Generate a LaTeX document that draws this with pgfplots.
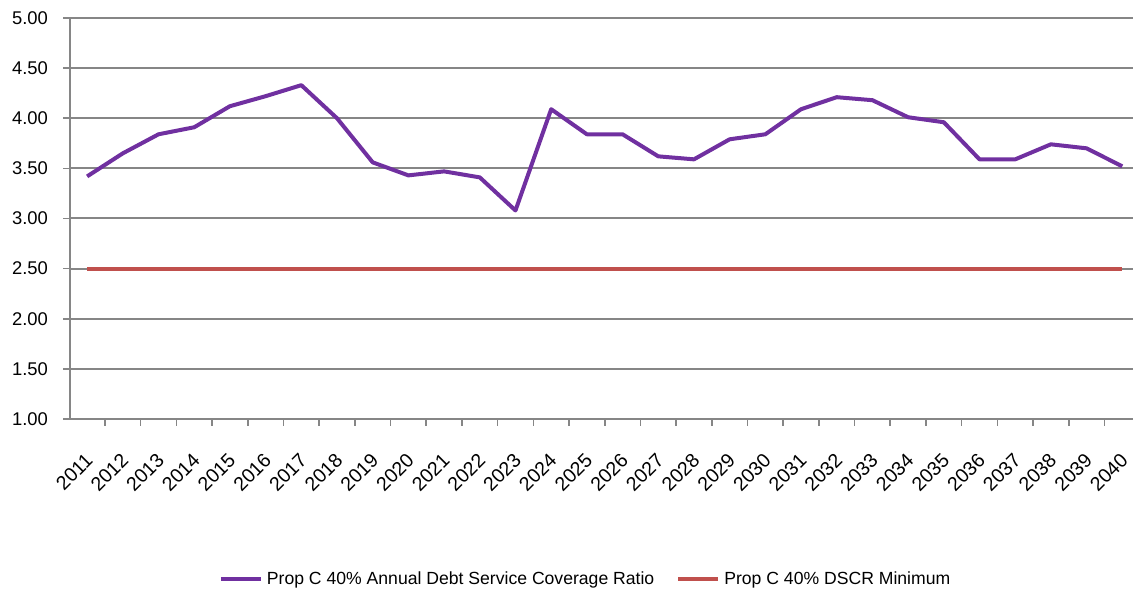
\documentclass[border=0pt]{standalone}
\usepackage{fontspec}
\setmainfont{Liberation Sans}
\usepackage{pgfplots}
\pgfplotsset{compat=1.18}

\definecolor{dscrpurple}{RGB}{112,48,160}
\definecolor{minred}{RGB}{192,80,77}
\definecolor{gridgray}{RGB}{134,134,134}

\pgfplotstableread{
idx ratio minimum
0  3.42 2.50
1  3.65 2.50
2  3.84 2.50
3  3.91 2.50
4  4.12 2.50
5  4.22 2.50
6  4.33 2.50
7  4.00 2.50
8  3.56 2.50
9  3.43 2.50
10 3.47 2.50
11 3.41 2.50
12 3.08 2.50
13 4.09 2.50
14 3.84 2.50
15 3.84 2.50
16 3.62 2.50
17 3.59 2.50
18 3.79 2.50
19 3.84 2.50
20 4.09 2.50
21 4.21 2.50
22 4.18 2.50
23 4.01 2.50
24 3.96 2.50
25 3.59 2.50
26 3.59 2.50
27 3.74 2.50
28 3.70 2.50
29 3.52 2.50
}\dscrdata

\begin{document}
\begin{tikzpicture}
\begin{axis}[
    scale only axis,
    width=531.5pt, height=200.5pt,
    xmin=-0.48, xmax=29.3,
    ymin=1, ymax=5,
    axis x line*=bottom,
    axis y line*=left,
    axis line style={gridgray, line width=1pt, -},
    ytick={1,1.5,...,5},
    ymajorgrids,
    grid style={gridgray, line width=1pt},
    tick align=outside,
    major tick length=3.5pt,
    minor tick length=3.5pt,
    tick style={gridgray, line width=0.8pt},
    xtick={0,...,29},
    major x tick style={draw=none},
    minor xtick={-0.5,0.5,...,28.5},
    xticklabels={2011,2012,2013,2014,2015,2016,2017,2018,2019,2020,
                 2021,2022,2023,2024,2025,2026,2027,2028,2029,2030,
                 2031,2032,2033,2034,2035,2036,2037,2038,2039,2040},
    xticklabel style={font=\fontsize{9.8}{10}\selectfont, yshift=-13pt, xshift=3.5pt, rotate=45, anchor=east},
    yticklabel style={font=\fontsize{9.2}{10}\selectfont, xshift=-4pt,
        /pgf/number format/.cd, fixed, fixed zerofill, precision=2, assume math mode=true},
    legend style={at={(0.486,-0.40)}, anchor=center, draw=none,
        font=\fontsize{8.8}{10}\selectfont, legend columns=2,
        /tikz/every even column/.append style={column sep=9pt}},
    legend image code/.code={\draw[#1] (0pt,0pt) -- (20pt,0pt);},
]
\addplot[dscrpurple, line width=2pt, line join=round] table[x=idx, y=ratio] {\dscrdata};
\addlegendentry{Prop C 40\% Annual Debt Service Coverage Ratio}
\addplot[minred, line width=2pt] table[x=idx, y=minimum] {\dscrdata};
\addlegendentry{Prop C 40\% DSCR Minimum}
\coordinate (BL) at (rel axis cs:-0.06585,-0.4389);
\coordinate (TR) at (rel axis cs:1,1.0449);
\end{axis}
\pgfresetboundingbox
\useasboundingbox (BL) rectangle (TR);
\end{tikzpicture}
\end{document}
